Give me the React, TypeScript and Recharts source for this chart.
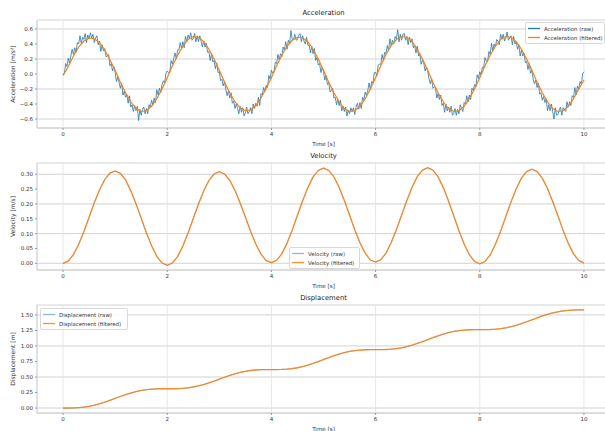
import { LineChart, Line, XAxis, YAxis, CartesianGrid } from 'recharts';

// sampling steps [s]
const RAW_DT = 0.025;
const DT = 0.1;

// raw accelerometer trace, one row = 0.5 s
const accelRaw = [
  0.01, 0.0, 0.14, 0.1, 0.21, 0.14, 0.24, 0.33, 0.26, 0.35, 0.29, 0.42, 0.4, 0.51, 0.41, 0.49, 0.46, 0.54, 0.42, 0.52,
  0.47, 0.55, 0.48, 0.53, 0.42, 0.48, 0.51, 0.39, 0.44, 0.3, 0.39, 0.31, 0.34, 0.23, 0.24, 0.26, 0.11, 0.14, 0.04, 0.1,
  0.02, -0.1, -0.04, -0.11, -0.19, -0.12, -0.28, -0.23, -0.31, -0.28, -0.39, -0.29, -0.44, -0.41, -0.5, -0.42, -0.49, -0.43, -0.62, -0.47,
  -0.55, -0.47, -0.44, -0.53, -0.46, -0.53, -0.41, -0.44, -0.35, -0.41, -0.32, -0.38, -0.21, -0.28, -0.19, -0.25, -0.14, -0.09, -0.12, 0.01,
  0.04, 0.02, 0.03, 0.18, 0.13, 0.21, 0.28, 0.2, 0.32, 0.32, 0.42, 0.34, 0.43, 0.35, 0.5, 0.43, 0.52, 0.47, 0.55, 0.45,
  0.47, 0.54, 0.43, 0.51, 0.43, 0.51, 0.44, 0.36, 0.44, 0.36, 0.41, 0.29, 0.3, 0.18, 0.27, 0.16, 0.18, 0.07, 0.15, 0.02,
  0.03, -0.09, -0.07, -0.16, -0.1, -0.21, -0.29, -0.22, -0.32, -0.25, -0.39, -0.36, -0.46, -0.4, -0.46, -0.53, -0.43, -0.51, -0.45, -0.56,
  -0.52, -0.44, -0.53, -0.5, -0.45, -0.53, -0.4, -0.46, -0.39, -0.43, -0.31, -0.42, -0.26, -0.28, -0.18, -0.23, -0.15, -0.18, -0.02, -0.07,
  0.05, 0.01, 0.03, 0.16, 0.14, 0.26, 0.19, 0.27, 0.23, 0.36, 0.32, 0.43, 0.33, 0.45, 0.41, 0.58, 0.46, 0.46, 0.53, 0.45,
  0.46, 0.52, 0.54, 0.43, 0.51, 0.44, 0.4, 0.49, 0.38, 0.39, 0.28, 0.37, 0.27, 0.34, 0.18, 0.22, 0.12, 0.14, 0.02, 0.09,
  0.03, -0.08, -0.02, -0.14, -0.11, -0.24, -0.22, -0.19, -0.32, -0.31, -0.41, -0.34, -0.42, -0.35, -0.49, -0.43, -0.5, -0.44, -0.56, -0.48,
  -0.53, -0.45, -0.5, -0.45, -0.54, -0.44, -0.39, -0.47, -0.38, -0.46, -0.31, -0.35, -0.24, -0.29, -0.22, -0.12, -0.21, -0.1, -0.12, 0.02,
  0.02, -0.02, 0.12, 0.13, 0.13, 0.26, 0.18, 0.29, 0.27, 0.38, 0.31, 0.47, 0.38, 0.45, 0.4, 0.5, 0.47, 0.59, 0.43, 0.53,
  0.45, 0.53, 0.54, 0.45, 0.5, 0.39, 0.49, 0.42, 0.47, 0.35, 0.38, 0.28, 0.37, 0.24, 0.27, 0.13, 0.18, 0.15, 0.04, 0.09,
  0.04, -0.06, -0.13, -0.06, -0.19, -0.17, -0.18, -0.32, -0.26, -0.34, -0.28, -0.42, -0.39, -0.51, -0.4, -0.49, -0.44, -0.51, -0.43, -0.55,
  -0.53, -0.46, -0.55, -0.47, -0.53, -0.41, -0.46, -0.5, -0.38, -0.4, -0.29, -0.37, -0.28, -0.34, -0.19, -0.22, -0.14, -0.17, -0.01, -0.06,
  0.03, -0.01, 0.09, 0.08, 0.22, 0.17, 0.17, 0.3, 0.26, 0.41, 0.31, 0.4, 0.36, 0.46, 0.44, 0.39, 0.53, 0.47, 0.53, 0.44,
  0.48, 0.56, 0.45, 0.48, 0.51, 0.39, 0.5, 0.4, 0.43, 0.33, 0.39, 0.24, 0.32, 0.24, 0.28, 0.15, 0.17, 0.06, 0.14, 0.01,
  0.05, -0.07, -0.13, -0.08, -0.18, -0.12, -0.27, -0.25, -0.35, -0.3, -0.38, -0.33, -0.49, -0.41, -0.49, -0.4, -0.5, -0.6, -0.45, -0.55,
  -0.54, -0.48, -0.44, -0.55, -0.45, -0.48, -0.5, -0.37, -0.44, -0.37, -0.42, -0.29, -0.31, -0.18, -0.28, -0.16, -0.2, -0.1, -0.14, 0.01,
  0.03,
];

const accelFiltered = [
  -0.02, 0.1, 0.24, 0.36, 0.44, 0.48, 0.47, 0.42, 0.32, 0.19,
  0.05, -0.11, -0.25, -0.37, -0.46, -0.5, -0.49, -0.43, -0.33, -0.2,
  -0.05, 0.11, 0.25, 0.37, 0.46, 0.5, 0.49, 0.43, 0.33, 0.2,
  0.05, -0.11, -0.25, -0.37, -0.45, -0.49, -0.48, -0.42, -0.32, -0.19,
  -0.05, 0.11, 0.25, 0.37, 0.45, 0.49, 0.48, 0.43, 0.33, 0.2,
  0.05, -0.11, -0.25, -0.37, -0.46, -0.5, -0.49, -0.43, -0.33, -0.2,
  -0.05, 0.11, 0.26, 0.38, 0.46, 0.5, 0.49, 0.43, 0.33, 0.2,
  0.05, -0.11, -0.25, -0.37, -0.46, -0.5, -0.49, -0.43, -0.33, -0.2,
  -0.05, 0.11, 0.25, 0.37, 0.46, 0.5, 0.49, 0.43, 0.33, 0.2,
  0.05, -0.11, -0.25, -0.37, -0.46, -0.5, -0.49, -0.43, -0.33, -0.2,
  -0.08,
];

const velocityRaw = [
  0.0, 0.006, 0.028, 0.063, 0.106, 0.155, 0.204, 0.247, 0.282, 0.304,
  0.311, 0.303, 0.281, 0.245, 0.201, 0.152, 0.103, 0.059, 0.023, 0.001,
  -0.007, 0.001, 0.023, 0.058, 0.102, 0.151, 0.2, 0.244, 0.279, 0.301,
  0.309, 0.301, 0.28, 0.246, 0.203, 0.156, 0.108, 0.065, 0.031, 0.009,
  0.002, 0.01, 0.032, 0.068, 0.112, 0.162, 0.211, 0.255, 0.291, 0.313,
  0.321, 0.313, 0.291, 0.256, 0.212, 0.163, 0.113, 0.069, 0.034, 0.011,
  0.004, 0.012, 0.034, 0.07, 0.114, 0.163, 0.212, 0.256, 0.292, 0.314,
  0.322, 0.314, 0.291, 0.255, 0.21, 0.16, 0.11, 0.065, 0.029, 0.006,
  -0.002, 0.006, 0.028, 0.064, 0.108, 0.158, 0.207, 0.251, 0.287, 0.309,
  0.317, 0.309, 0.287, 0.252, 0.208, 0.16, 0.111, 0.067, 0.031, 0.008,
  0.0,
];

const velocityFiltered = [
  0.0, 0.008, 0.03, 0.064, 0.107, 0.155, 0.204, 0.247, 0.282, 0.304,
  0.311, 0.303, 0.281, 0.245, 0.201, 0.152, 0.103, 0.059, 0.023, 0.001,
  -0.007, 0.001, 0.023, 0.058, 0.102, 0.151, 0.2, 0.244, 0.279, 0.301,
  0.309, 0.301, 0.28, 0.246, 0.203, 0.156, 0.108, 0.065, 0.031, 0.009,
  0.002, 0.01, 0.032, 0.068, 0.112, 0.162, 0.211, 0.255, 0.291, 0.313,
  0.321, 0.313, 0.291, 0.256, 0.212, 0.163, 0.113, 0.069, 0.034, 0.011,
  0.004, 0.012, 0.034, 0.07, 0.114, 0.163, 0.212, 0.256, 0.292, 0.314,
  0.322, 0.314, 0.291, 0.255, 0.21, 0.16, 0.11, 0.065, 0.029, 0.006,
  -0.002, 0.006, 0.028, 0.064, 0.108, 0.158, 0.207, 0.251, 0.287, 0.309,
  0.317, 0.309, 0.287, 0.252, 0.208, 0.16, 0.111, 0.067, 0.032, 0.01,
  0.002,
];

const displacementRaw = [
  0.0, 0.0, 0.002, 0.007, 0.015, 0.028, 0.046, 0.069, 0.095, 0.125,
  0.156, 0.186, 0.216, 0.242, 0.265, 0.283, 0.296, 0.304, 0.309, 0.311,
  0.311, 0.311, 0.313, 0.318, 0.326, 0.339, 0.357, 0.379, 0.406, 0.435,
  0.466, 0.496, 0.525, 0.552, 0.574, 0.592, 0.605, 0.613, 0.618, 0.62,
  0.62, 0.62, 0.622, 0.627, 0.636, 0.649, 0.668, 0.691, 0.718, 0.749,
  0.781, 0.812, 0.843, 0.87, 0.893, 0.912, 0.925, 0.934, 0.939, 0.941,
  0.941, 0.941, 0.943, 0.948, 0.957, 0.97, 0.989, 1.012, 1.04, 1.07,
  1.102, 1.134, 1.164, 1.192, 1.215, 1.234, 1.247, 1.256, 1.261, 1.263,
  1.263, 1.263, 1.265, 1.27, 1.278, 1.292, 1.31, 1.333, 1.36, 1.39,
  1.422, 1.453, 1.483, 1.51, 1.533, 1.551, 1.564, 1.573, 1.578, 1.58,
  1.58,
];

const displacementFiltered = [
  0.0, 0.0, 0.002, 0.007, 0.015, 0.028, 0.046, 0.069, 0.095, 0.125,
  0.156, 0.186, 0.216, 0.242, 0.265, 0.283, 0.296, 0.304, 0.309, 0.311,
  0.311, 0.311, 0.313, 0.318, 0.326, 0.339, 0.357, 0.379, 0.406, 0.435,
  0.466, 0.496, 0.525, 0.552, 0.574, 0.592, 0.605, 0.613, 0.618, 0.62,
  0.62, 0.62, 0.622, 0.627, 0.636, 0.649, 0.668, 0.691, 0.718, 0.749,
  0.781, 0.812, 0.843, 0.87, 0.893, 0.912, 0.925, 0.934, 0.939, 0.941,
  0.941, 0.941, 0.943, 0.948, 0.957, 0.97, 0.989, 1.012, 1.04, 1.07,
  1.102, 1.134, 1.164, 1.192, 1.215, 1.234, 1.247, 1.256, 1.261, 1.263,
  1.263, 1.263, 1.265, 1.27, 1.278, 1.292, 1.31, 1.333, 1.36, 1.39,
  1.422, 1.453, 1.483, 1.51, 1.533, 1.551, 1.564, 1.573, 1.578, 1.58,
  1.58,
];

const timeTicks = [0, 2, 4, 6, 8, 10];
const accelTicks = [-0.6, -0.4, -0.2, 0, 0.2, 0.4, 0.6];
const velocityTicks = [0, 0.05, 0.1, 0.15, 0.2, 0.25, 0.3];
const displacementTicks = [0, 0.25, 0.5, 0.75, 1, 1.25, 1.5];

const FONT = '"DejaVu Sans", sans-serif';
const BLUE = '#1f77b4';
const ORANGE = '#ff7f0e';

const toSeries = (values: number[], dt: number) =>
  values.map((v, i) => ({ t: Math.round(i * dt * 1000) / 1000, v }));

const minus = (s: string) => s.replace('-', '\u2212');

interface SeriesDef {
  name: string;
  data: { t: number; v: number }[];
  color: string;
  width: number;
  opacity: number;
}

interface PanelProps {
  top: number;
  height: number;
  title: string;
  yLabel: string;
  domain: [number, number];
  ticks: number[];
  digits: number;
  series: SeriesDef[];
  topSpine: string;
}

function Panel({ top, height, title, yLabel, domain, ticks, digits, series, topSpine }: PanelProps) {
  return (
    <div style={{ position: 'absolute', left: 0, top, width: 620, height }}>
      <LineChart width={620} height={height} margin={{ top: 20, right: 10, bottom: 0, left: 7 }}>
        <CartesianGrid horizontal vertical={false} stroke="#c6c6c6" strokeWidth={0.8} />
        <CartesianGrid horizontal={false} vertical stroke="#e2e2e2" strokeWidth={0.8} />
        <XAxis
          dataKey="t"
          type="number"
          domain={[-0.5, 10.5]}
          ticks={timeTicks}
          height={22}
          tickSize={2}
          tickMargin={2}
          axisLine={{ stroke: '#cfcfcf' }}
          tickLine={{ stroke: '#9a9a9a' }}
          tick={{ fontSize: 5.5, fill: '#333', fontFamily: FONT }}
          label={{ value: 'Time [s]', position: 'insideBottom', offset: 4, fontSize: 5.6, fill: '#333', fontFamily: FONT }}
        />
        <XAxis
          xAxisId="top"
          orientation="top"
          type="number"
          domain={[-0.5, 10.5]}
          height={0}
          tick={false}
          tickLine={false}
          axisLine={{ stroke: topSpine }}
        />
        <YAxis
          type="number"
          domain={domain}
          ticks={ticks}
          width={30}
          tickSize={2}
          tickMargin={2}
          axisLine={{ stroke: '#cfcfcf' }}
          tickLine={{ stroke: '#9a9a9a' }}
          tickFormatter={(v: number) => minus(v.toFixed(digits))}
          tick={{ fontSize: 5.5, fill: '#333', fontFamily: FONT }}
          label={{
            value: yLabel,
            angle: -90,
            position: 'insideLeft',
            offset: 6,
            fontSize: 6,
            fill: '#333',
            fontFamily: FONT,
            style: { textAnchor: 'middle' },
          }}
        />
        {series.map((s) => (
          <Line
            key={s.name}
            data={s.data}
            dataKey="v"
            name={s.name}
            type="linear"
            stroke={s.color}
            strokeWidth={s.width}
            strokeOpacity={s.opacity}
            dot={false}
            isAnimationActive={false}
          />
        ))}
      </LineChart>
      <div
        style={{
          position: 'absolute',
          left: 37,
          width: 573,
          top: 9,
          textAlign: 'center',
          fontFamily: FONT,
          fontSize: 6.8,
          lineHeight: '9px',
          color: '#222',
        }}
      >
        {title}
      </div>
    </div>
  );
}

function LegendBox({ left, top, width, items }: { left: number; top: number; width: number; items: SeriesDef[] }) {
  return (
    <div
      style={{
        position: 'absolute',
        left,
        top,
        width,
        padding: '1px 0',
        background: 'rgba(255,255,255,0.85)',
        border: '1px solid #d8d8d8',
        borderRadius: 2,
        fontFamily: FONT,
        fontSize: 5.4,
        color: '#333',
      }}
    >
      {items.map((s) => (
        <div key={s.name} style={{ display: 'flex', alignItems: 'center', height: 9 }}>
          <svg width={16} height={9} style={{ marginLeft: 2, flex: 'none' }}>
            <line x1={0} x2={12} y1={4.5} y2={4.5} stroke={s.color} strokeOpacity={s.opacity} strokeWidth={1.3} />
          </svg>
          <span style={{ whiteSpace: 'nowrap' }}>{s.name}</span>
        </div>
      ))}
    </div>
  );
}

const accelSeries: SeriesDef[] = [
  { name: 'Acceleration (raw)', data: toSeries(accelRaw, RAW_DT), color: BLUE, width: 0.8, opacity: 1 },
  { name: 'Acceleration (filtered)', data: toSeries(accelFiltered, DT), color: ORANGE, width: 1.2, opacity: 1 },
];

const velocitySeries: SeriesDef[] = [
  { name: 'Velocity (raw)', data: toSeries(velocityRaw, DT), color: BLUE, width: 1, opacity: 0.5 },
  { name: 'Velocity (filtered)', data: toSeries(velocityFiltered, DT), color: ORANGE, width: 1.3, opacity: 0.85 },
];

const displacementSeries: SeriesDef[] = [
  { name: 'Displacement (raw)', data: toSeries(displacementRaw, DT), color: BLUE, width: 1, opacity: 0.5 },
  { name: 'Displacement (filtered)', data: toSeries(displacementFiltered, DT), color: ORANGE, width: 1.3, opacity: 0.85 },
];

export default function App() {
  return (
    <div
      style={{
        position: 'absolute',
        left: 0,
        top: 0,
        width: 605,
        height: 431,
        overflow: 'hidden',
        background: '#fff',
      }}
    >
      <Panel
        top={0}
        height={150}
        title="Acceleration"
        yLabel="Acceleration [m/s²]"
        domain={[-0.72, 0.72]}
        ticks={accelTicks}
        digits={1}
        series={accelSeries}
        topSpine="#dcdcdc"
      />
      <Panel
        top={143}
        height={149}
        title="Velocity"
        yLabel="Velocity [m/s]"
        domain={[-0.0226, 0.338]}
        ticks={velocityTicks}
        digits={2}
        series={velocitySeries}
        topSpine="#666"
      />
      <Panel
        top={285}
        height={150}
        title="Displacement"
        yLabel="Displacement [m]"
        domain={[-0.08, 1.66]}
        ticks={displacementTicks}
        digits={2}
        series={displacementSeries}
        topSpine="#aaa"
      />
      <LegendBox left={525} top={22} width={78} items={accelSeries} />
      <LegendBox left={289} top={247} width={69} items={velocitySeries} />
      <LegendBox left={40} top={308} width={86} items={displacementSeries} />
    </div>
  );
}
